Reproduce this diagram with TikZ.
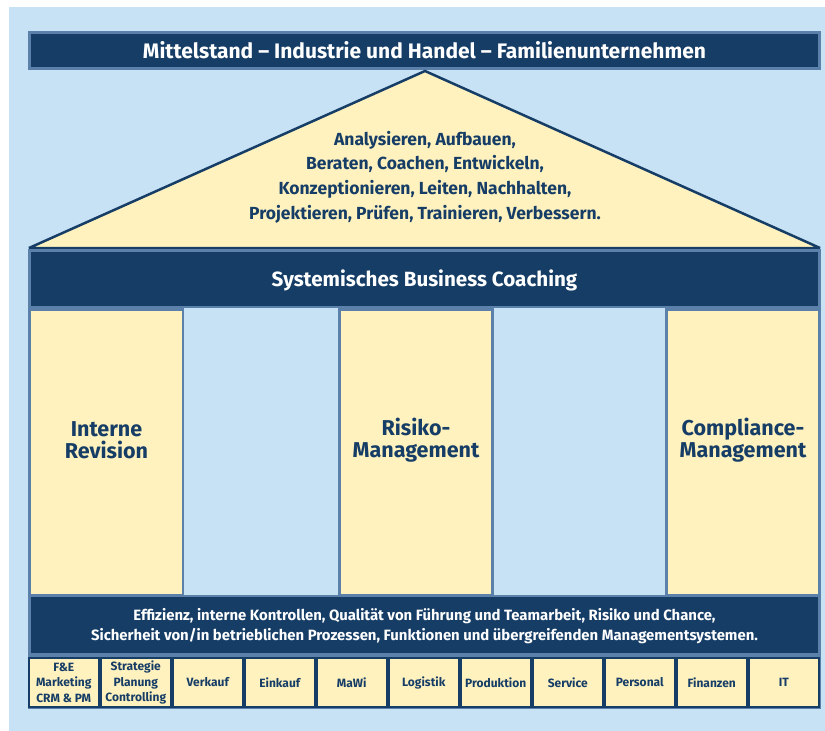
\documentclass[tikz,border=0pt]{standalone}
\usepackage{fontspec}
\setmainfont{Fira Sans}
\definecolor{bgblue}{HTML}{C8E2F5}
\definecolor{navy}{HTML}{163D66}
\definecolor{midblue}{HTML}{5B80AA}
\definecolor{cream}{HTML}{FFF2BF}
\tikzset{
  lighttxt/.style={text=white, font=\bfseries, align=center, inner sep=0pt},
  darktxt/.style={text=navy, font=\bfseries, align=center, inner sep=0pt},
  smallbox/.style={draw=navy, fill=cream, line width=2pt, minimum width=69.5pt, minimum height=49pt,
    inner sep=0pt, text=navy, align=center, font=\fontsize{12}{15.5}\selectfont\bfseries},
  colfont/.style={font=\fontsize{21.5}{22}\selectfont\bfseries},
}
\begin{document}
\begin{tikzpicture}[x=1pt,y=-1pt]
\useasboundingbox (0,0) rectangle (825,731);
\fill[white] (0,0) rectangle (825,731);
\fill[bgblue] (9,7) rectangle (825,731);
% top banner
\filldraw[fill=navy, draw=midblue, line width=3pt] (29.5,32.5) rectangle (819.5,68.5);
\node[lighttxt, font=\fontsize{21}{22}\selectfont\bfseries] (title) at (424.5,50.5)
  {Mittelstand – Industrie und Handel – Familienunternehmen};
% roof
\filldraw[fill=cream, draw=navy, line width=2.5pt, line join=bevel] (29,248) -- (425,71) -- (820,248) -- cycle;
\node[darktxt, font=\fontsize{17.5}{24.7}\selectfont\bfseries] (roof) at (425,177)
  {Analysieren, Aufbauen,\\Beraten, Coachen, Entwickeln,\\Konzeptionieren, Leiten, Nachhalten,\\Projektieren, Prüfen, Trainieren, Verbessern.};
% main frame
\fill[midblue] (28,249) rectangle (821,708.5);
\fill[navy] (31,252) rectangle (818,305.5);
\node[lighttxt, font=\fontsize{20.6}{22}\selectfont\bfseries] (sbc) at (424.5,280) {Systemisches Business Coaching};
% columns
\fill[cream] (31,311) rectangle (182,594);
\fill[cream] (341,311) rectangle (491,594);
\fill[cream] (668,311) rectangle (818,594);
\fill[bgblue] (184,308) rectangle (338,595);
\fill[bgblue] (494,308) rectangle (665,595);
\node[darktxt, colfont] (c1) at (106.5,440) {Interne\\Revision};
\node[darktxt, colfont] (c2) at (416,440) {Risiko-\\Management};
\node[darktxt, colfont] (c3) at (743,440) {Compliance-\\Management};
% bottom band
\fill[navy] (31,597) rectangle (818,653);
\node[lighttxt, font=\fontsize{14.9}{20}\selectfont\bfseries] (band) at (424.5,626)
  {Effizienz, interne Kontrollen, Qualität von Führung und Teamarbeit, Risiko und Chance,\\Sicherheit von/in betrieblichen Prozessen, Funktionen und übergreifenden Managementsystemen.};
% small boxes
\node[smallbox] (b1) at (63.75,682.5) {F\&E\\Marketing\\CRM \& PM};
\node[smallbox] (b2) at (135.75,682.5) {Strategie\\Planung\\Controlling};
\node[smallbox] (b3) at (207.75,682.5) {Verkauf};
\node[smallbox] (b4) at (279.75,682.5) {Einkauf};
\node[smallbox] (b5) at (351.75,682.5) {MaWi};
\node[smallbox] (b6) at (423.75,682.5) {Logistik};
\node[smallbox] (b7) at (495.75,682.5) {Produktion};
\node[smallbox] (b8) at (567.75,682.5) {Service};
\node[smallbox] (b9) at (639.75,682.5) {Personal};
\node[smallbox] (b10) at (711.75,682.5) {Finanzen};
\node[smallbox] (b11) at (783.75,682.5) {IT};
\end{tikzpicture}
\end{document}
